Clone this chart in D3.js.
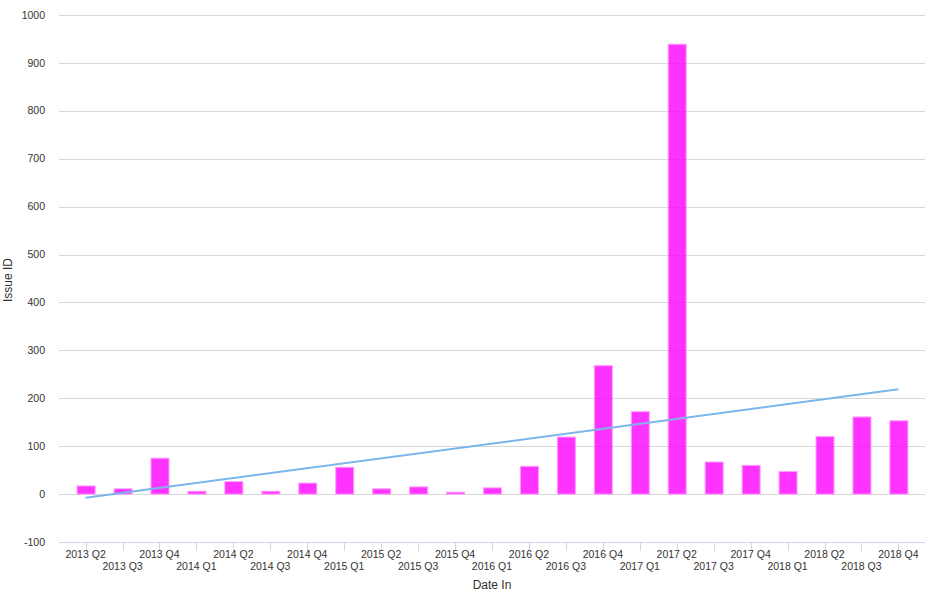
<!DOCTYPE html>
<html>
<head>
  <title>Issue ID by Date In</title>
  <meta charset="utf8">
  <style type="text/css">
    body { margin: 0; font-family: "Liberation Sans", Arial, sans-serif; background: #fff; }
    .grid line { stroke: #d8d8d8; stroke-width: 1; }
    .tick-label { font-size: 10.5px; fill: #333; }
    .axis-title { font-size: 12px; fill: #333; }
  </style>
</head>
<body>

<script src="https://d3js.org/d3.v7.min.js"></script>

<script type="text/javascript">

var width = 929, height = 599;

var categories = [
  '2013 Q2', '2013 Q3', '2013 Q4',
  '2014 Q1', '2014 Q2', '2014 Q3', '2014 Q4',
  '2015 Q1', '2015 Q2', '2015 Q3', '2015 Q4',
  '2016 Q1', '2016 Q2', '2016 Q3', '2016 Q4',
  '2017 Q1', '2017 Q2', '2017 Q3', '2017 Q4',
  '2018 Q1', '2018 Q2', '2018 Q3', '2018 Q4'
]

var issueCounts = [17, 11, 75, 6, 26, 6, 23, 56, 11, 15, 4, 13, 58, 119, 268, 172, 939, 67, 60, 47, 120, 161, 153]

var yTicks = [-100, 0, 100, 200, 300, 400, 500, 600, 700, 800, 900, 1000]

var plot = { left: 59, right: 925, top: 15, bottom: 542 }

var svg = d3.select('body').append('svg')
    .attr('width', width)
    .attr('height', height)

var x = d3.scalePoint()
    .domain(categories)
    .range([plot.left, plot.right])
    .padding(0.72)

var y = d3.scaleLinear()
    .domain([-100, 1000])
    .range([plot.bottom, plot.top])

// horizontal grid
svg.append('g')
    .attr('class', 'grid')
    .selectAll('line')
    .data(yTicks.filter(function(d) { return d > -100 }))
    .enter()
    .append('line')
    .attr('x1', plot.left)
    .attr('x2', plot.right)
    .attr('y1', function(d) { return Math.round(y(d)) + 0.5 })
    .attr('y2', function(d) { return Math.round(y(d)) + 0.5 })

// y tick labels
svg.append('g')
    .selectAll('text')
    .data(yTicks)
    .enter()
    .append('text')
    .attr('class', 'tick-label')
    .attr('x', 45)
    .attr('y', function(d) { return y(d) })
    .attr('dy', '0.35em')
    .attr('text-anchor', 'end')
    .text(function(d) { return d })

// bars
var barWidth = 18

svg.append('g')
    .selectAll('rect')
    .data(issueCounts)
    .enter()
    .append('rect')
    .attr('x', function(d, i) { return x(categories[i]) - barWidth / 2 + 0.5 })
    .attr('y', function(d) { return y(d) })
    .attr('width', barWidth)
    .attr('height', function(d) { return y(0) - y(d) })
    .style('fill', '#ff00ff')
    .style('fill-opacity', 0.8)
    .style('stroke', '#ff9cff')
    .style('stroke-width', 1)

// linear trend through the counts
var n = issueCounts.length
var mx = d3.mean(d3.range(n))
var my = d3.mean(issueCounts)
var sxy = d3.sum(issueCounts, function(d, i) { return (i - mx) * (d - my) })
var sxx = d3.sum(d3.range(n), function(i) { return (i - mx) * (i - mx) })
var slope = sxy / sxx
var intercept = my - slope * mx

var trendLine = d3.line()
    .x(function(d) { return x(categories[d]) })
    .y(function(d) { return y(intercept + slope * d) })

svg.append('path')
    .datum([0, n - 1])
    .attr('d', trendLine)
    .style('fill', 'none')
    .style('stroke', '#7cb5ec')
    .style('stroke-width', 2)

// x axis line and ticks
svg.append('line')
    .attr('x1', plot.left)
    .attr('x2', plot.right)
    .attr('y1', plot.bottom + 0.5)
    .attr('y2', plot.bottom + 0.5)
    .style('stroke', '#ccd6eb')

svg.append('g')
    .selectAll('line')
    .data(categories)
    .enter()
    .append('line')
    .attr('x1', function(d) { return Math.round(x(d)) + 0.5 })
    .attr('x2', function(d) { return Math.round(x(d)) + 0.5 })
    .attr('y1', plot.bottom)
    .attr('y2', plot.bottom + 9)
    .style('stroke', '#ccd6eb')

svg.append('g')
    .selectAll('text')
    .data(categories)
    .enter()
    .append('text')
    .attr('class', 'tick-label')
    .attr('x', function(d) { return x(d) })
    .attr('y', function(d, i) { return i % 2 ? 570 : 558 })
    .attr('text-anchor', 'middle')
    .text(function(d) { return d })

// axis titles
svg.append('text')
    .attr('class', 'axis-title')
    .attr('x', (plot.left + plot.right) / 2)
    .attr('y', 589)
    .attr('text-anchor', 'middle')
    .text('Date In')

svg.append('text')
    .attr('class', 'axis-title')
    .attr('transform', 'translate(12,' + 280 + ') rotate(-90)')
    .attr('text-anchor', 'middle')
    .text('Issue ID')

</script>

</body>
</html>
